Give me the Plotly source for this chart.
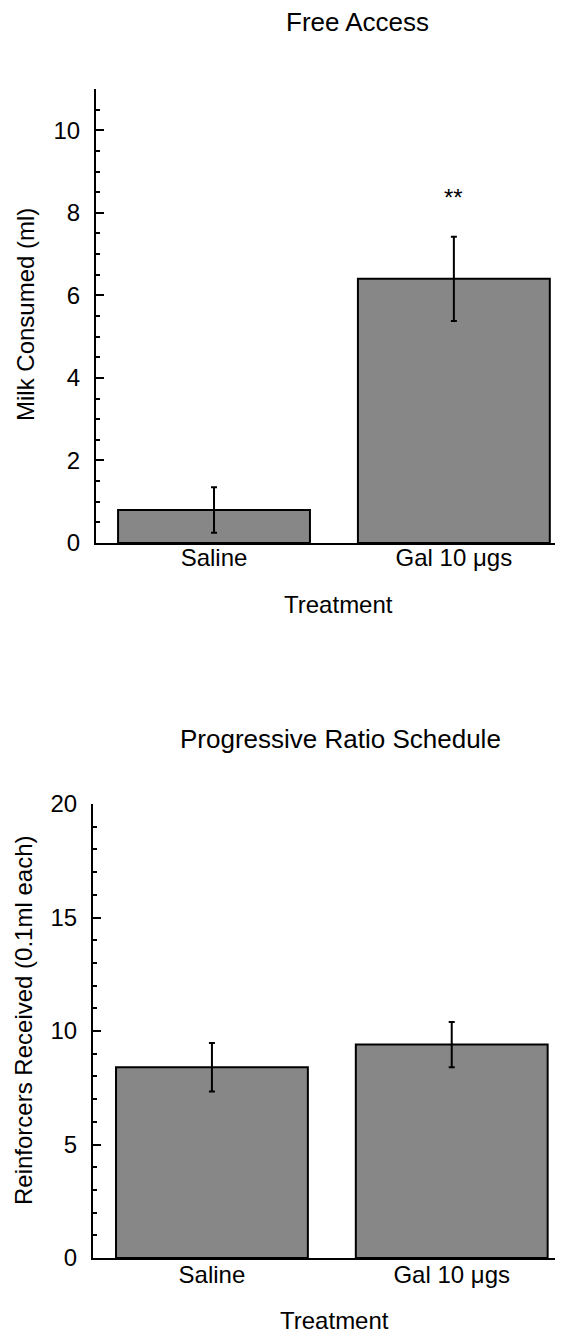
import plotly.graph_objects as go

# ---- data ----
categories = ["Saline", "Gal 10 μgs"]
milk_mean = [0.8, 6.4]
milk_sem = [0.55, 1.02]
reinf_mean = [8.4, 9.4]
reinf_sem = [1.07, 1.0]
top_title = "Free Access"
bottom_title = "Progressive Ratio Schedule"
top_ylabel = "Milk Consumed (ml)"
bottom_ylabel = "Reinforcers Received (0.1ml each)"
xlabel = "Treatment"
sig_label = "**"

FONT = "Liberation Sans, Arial, sans-serif"
PAGE_OFF = 8                 # default body margin of the html page
W, H = 563 - PAGE_OFF, 1336 - PAGE_OFF
BAR_COLOR = "#878787"

fig = go.Figure()

fig.add_trace(go.Bar(
    x=categories, y=milk_mean, width=0.8,
    marker=dict(color=BAR_COLOR, line=dict(color="black", width=2)),
    error_y=dict(type="data", array=milk_sem, color="black", thickness=2, width=3),
    xaxis="x", yaxis="y", showlegend=False,
))
fig.add_trace(go.Bar(
    x=categories, y=reinf_mean, width=0.8,
    marker=dict(color=BAR_COLOR, line=dict(color="black", width=2)),
    error_y=dict(type="data", array=reinf_sem, color="black", thickness=2, width=3),
    xaxis="x2", yaxis="y2", showlegend=False,
))

def px_x(p):
    return (p - PAGE_OFF) / W

def px_y(p):
    return (H - (p - PAGE_OFF)) / H

axis_common = dict(
    showline=True, linecolor="black", linewidth=2, showgrid=False, zeroline=False,
    automargin=False,
    tickfont=dict(family=FONT, size=24, color="black"),
)

fig.update_layout(
    template="none",
    width=W, height=H,
    margin=dict(l=0, r=0, t=0, b=0, pad=0),
    paper_bgcolor="white", plot_bgcolor="white",
    font=dict(family=FONT, color="black"),
    bargap=0.2,
    xaxis=dict(
        domain=[px_x(96), 1], anchor="y", range=[-0.492, 1.455],
        ticks="", ticklabelstandoff=-8, **axis_common,
    ),
    yaxis=dict(
        domain=[px_y(543), px_y(89)], anchor="x", range=[0, 11],
        tickmode="linear", tick0=0, dtick=2, ticks="inside", ticklen=8, tickwidth=2,
        tickcolor="black", ticklabelstandoff=9,
        minor=dict(ticks="inside", dtick=0.5, tick0=0, ticklen=4, tickwidth=1.5, tickcolor="black"),
        **axis_common,
    ),
    xaxis2=dict(
        domain=[px_x(93), 1], anchor="y2", range=[-0.496, 1.464],
        ticks="", ticklabelstandoff=-6, **axis_common,
    ),
    yaxis2=dict(
        domain=[px_y(1258), px_y(804)], anchor="x2", range=[0, 20],
        tickmode="linear", tick0=0, dtick=5, ticks="inside", ticklen=8, tickwidth=2,
        tickcolor="black", ticklabelstandoff=9,
        minor=dict(ticks="inside", dtick=1, tick0=0, ticklen=4, tickwidth=1.5, tickcolor="black"),
        **axis_common,
    ),
)

def label(text, x, y, size=24, angle=0):
    fig.add_annotation(
        text=text, x=px_x(x), y=px_y(y), xref="paper", yref="paper",
        xanchor="center", yanchor="middle", showarrow=False, textangle=angle,
        font=dict(family=FONT, size=size, color="black"),
    )

label(top_title, 357, 22, size=26)
label(bottom_title, 340, 739, size=26)
label(xlabel, 338, 604)
label(xlabel, 334, 1320)
label(top_ylabel, 25, 315, angle=-90)
label(bottom_ylabel, 23, 1021, angle=-90)

# significance marker above the Gal bar
fig.add_annotation(
    text=sig_label, x=categories[1], y=milk_mean[1] + milk_sem[1],
    xref="x", yref="y", yanchor="bottom", yshift=24, showarrow=False,
    font=dict(family=FONT, size=24, color="black"),
)

fig.write_html("out.html")
